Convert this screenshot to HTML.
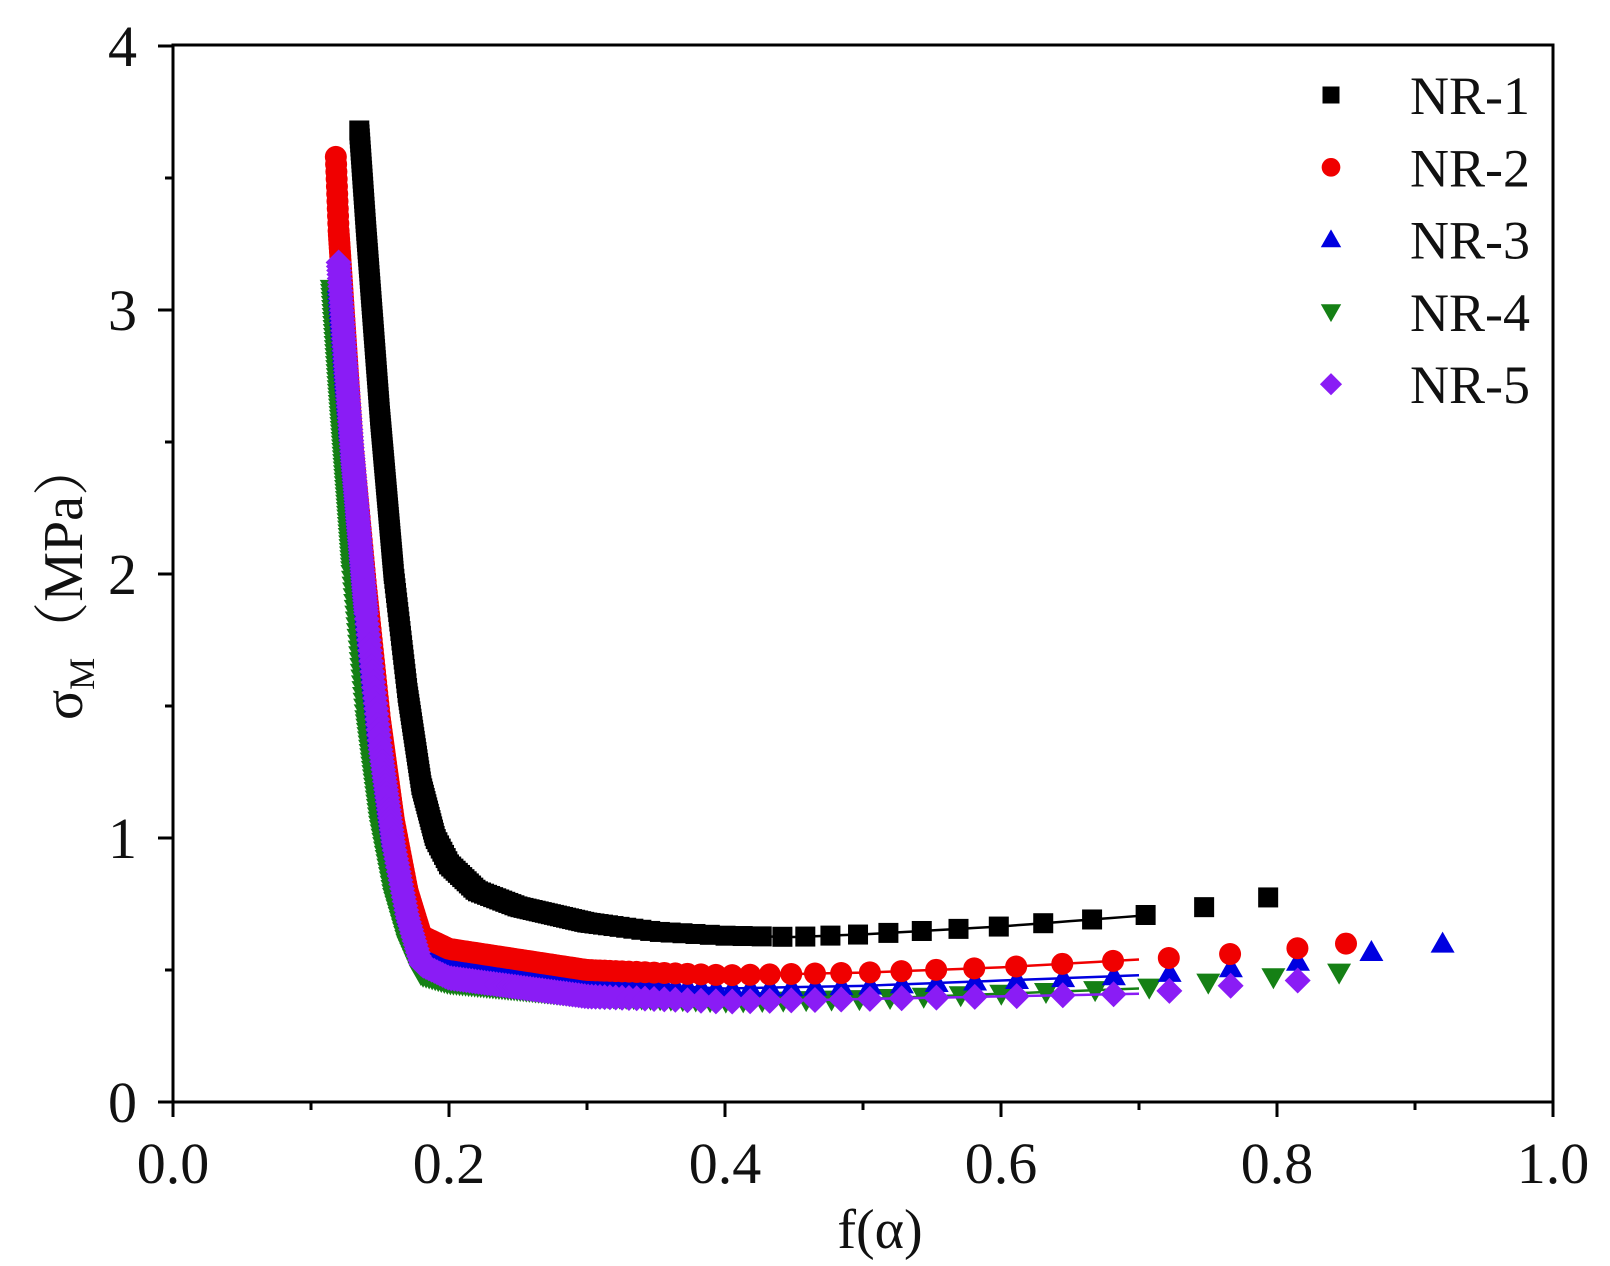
<!DOCTYPE html>
<html><head><meta charset="utf-8"><style>
html,body{margin:0;padding:0;background:#fff;}
svg{display:block;}
text{font-family:"Liberation Serif","Noto Serif CJK SC",serif;fill:#111;}
</style></head><body>
<svg id="s" width="1610" height="1266" viewBox="0 0 1610 1266" xmlns="http://www.w3.org/2000/svg">
<g id="data"></g>
<g id="axes" stroke="#000" stroke-width="3" fill="none">
<rect x="173" y="45" width="1380" height="1057"/>
</g>
<g id="ticks" stroke="#000" stroke-width="3"></g>
<g id="lab"></g>
<g>
<text x="880" y="1248" text-anchor="middle" font-size="56">f(α)</text>
<text transform="translate(82,580) rotate(-90)" text-anchor="middle" font-size="56">σ<tspan font-size="36" dy="12">M</tspan><tspan dy="-12">（MPa）</tspan></text>
</g>
<g id="leg"></g>
</svg>
<script>
const NS="http://www.w3.org/2000/svg";
const X=f=>173+f*1380, Y=s=>1102-s*264;
function el(t,a,p){const e=document.createElementNS(NS,t);for(const k in a)e.setAttribute(k,a[k]);p.appendChild(e);return e;}
const tk=document.getElementById('ticks'), lab=document.getElementById('lab');
for(let i=0;i<=10;i++){const x=X(i/10);el('line',{x1:x,y1:1102,x2:x,y2:i%2?1110:1117},tk);
 if(i%2==0){const t=el('text',{x:x,y:1183,'text-anchor':'middle','font-size':58},lab);t.textContent=(i/10).toFixed(1);}}
for(let i=0;i<=8;i++){const y=Y(i/2);el('line',{x1:173,y1:y,x2:i%2?165:158,y2:y},tk);
 if(i%2==0){const t=el('text',{x:137,y:y+20,'text-anchor':'end','font-size':58},lab);t.textContent=i/2;}}
const S=[
{c:'#000',m:'sq',lineEnd:0.7,t:[[0.135,3.68],[0.14,3.3],[0.15,2.6],[0.16,2.0],[0.17,1.55],[0.18,1.2],[0.19,1.0],[0.2,0.9],[0.22,0.8],[0.25,0.74],[0.3,0.68],[0.35,0.645],[0.4,0.63],[0.45,0.625],[0.5,0.635],[0.55,0.65],[0.6,0.665],[0.65,0.685],[0.7,0.705],[0.75,0.74],[0.8,0.78]]},
{c:'#158015',m:'tv',lineEnd:0.7,t:[[0.115,3.08],[0.12,2.7],[0.13,2.0],[0.14,1.45],[0.15,1.05],[0.16,0.78],[0.17,0.6],[0.18,0.48],[0.2,0.45],[0.3,0.40],[0.4,0.38],[0.5,0.39],[0.6,0.41],[0.7,0.43],[0.745,0.45],[0.79,0.47],[0.845,0.49]]},
{c:'#0000e0',m:'tu',lineEnd:0.7,t:[[0.12,3.1],[0.125,2.75],[0.13,2.45],[0.14,1.85],[0.15,1.35],[0.16,0.98],[0.17,0.72],[0.18,0.57],[0.2,0.52],[0.3,0.45],[0.4,0.43],[0.5,0.44],[0.6,0.46],[0.7,0.48],[0.75,0.5],[0.8,0.52],[0.855,0.56],[0.92,0.6]]},
{c:'#f00000',m:'ci',lineEnd:0.7,t:[[0.118,3.58],[0.12,3.3],[0.125,2.9],[0.13,2.5],[0.14,1.95],[0.15,1.45],[0.16,1.07],[0.17,0.8],[0.18,0.63],[0.2,0.58],[0.3,0.5],[0.4,0.48],[0.5,0.49],[0.6,0.51],[0.7,0.54],[0.74,0.55],[0.79,0.57],[0.85,0.6]]},
{c:'#8a1cf5',m:'di',lineEnd:0.7,t:[[0.12,3.18],[0.125,2.8],[0.13,2.45],[0.14,1.85],[0.15,1.35],[0.16,0.97],[0.17,0.7],[0.18,0.52],[0.2,0.47],[0.3,0.40],[0.4,0.38],[0.5,0.39],[0.6,0.40],[0.7,0.41],[0.72,0.42],[0.765,0.44],[0.815,0.46]]}];
function interp(t,f){for(let i=0;i<t.length-1;i++){if(f<=t[i+1][0]){const a=t[i],b=t[i+1];return a[1]+(b[1]-a[1])*(f-a[0])/(b[0]-a[0]);}}return t[t.length-1][1];}
function mk(m,x,y,c,p,sz){sz=sz||1;
 if(m=='sq')el('rect',{x:x-10*sz,y:y-10*sz,width:20*sz,height:20*sz,fill:c},p);
 else if(m=='ci')el('circle',{cx:x,cy:y,r:11*sz,fill:c},p);
 else if(m=='tu')el('polygon',{points:`${x},${y-12*sz} ${x-12*sz},${y+9*sz} ${x+12*sz},${y+9*sz}`,fill:c},p);
 else if(m=='tv')el('polygon',{points:`${x},${y+12*sz} ${x-12*sz},${y-9*sz} ${x+12*sz},${y-9*sz}`,fill:c},p);
 else el('polygon',{points:`${x},${y-13*sz} ${x+13*sz},${y} ${x},${y+13*sz} ${x-13*sz},${y}`,fill:c},p);}
const D=document.getElementById('data');
for(const s of S){const g=el('g',{},D);const t=s.t;
 let pts=[];for(let f=0.18;f<=s.lineEnd+1e-9;f+=0.01)pts.push(X(f)+','+Y(interp(t,f)));
 el('polyline',{points:pts.join(' '),stroke:s.c,'stroke-width':2.5,fill:'none'},g);
 const f0=t[0][0],f1=t[t.length-1][0];
 let px=X(f0),py=Y(t[0][1]);mk(s.m,px,py,s.c,g);let acc=0,lastx=px;
 for(let f=f0;f<=f1+1e-9;f+=0.0002){const x=X(f),y=Y(interp(t,f));acc+=Math.hypot(x-px,y-py);px=x;py=y;
  const step=f<0.3?3:3+(f-0.3)/0.4*50;
  if(acc>=step){mk(s.m,x,y,s.c,g);acc=0;lastx=x;}}
 if(X(f1)-lastx>25)mk(s.m,X(f1),Y(t[t.length-1][1]),s.c,g);}
const L=document.getElementById('leg');
const lg=[['sq','#000','NR-1'],['ci','#f00000','NR-2'],['tu','#0000e0','NR-3'],['tv','#158015','NR-4'],['di','#8a1cf5','NR-5']];
lg.forEach((a,i)=>{const y=95+i*72.3;mk(a[0],1331,y,a[1],L,0.85);const t=el('text',{x:1410,y:y+19,'font-size':54},L);t.textContent=a[2];});
</script>
</body></html>
